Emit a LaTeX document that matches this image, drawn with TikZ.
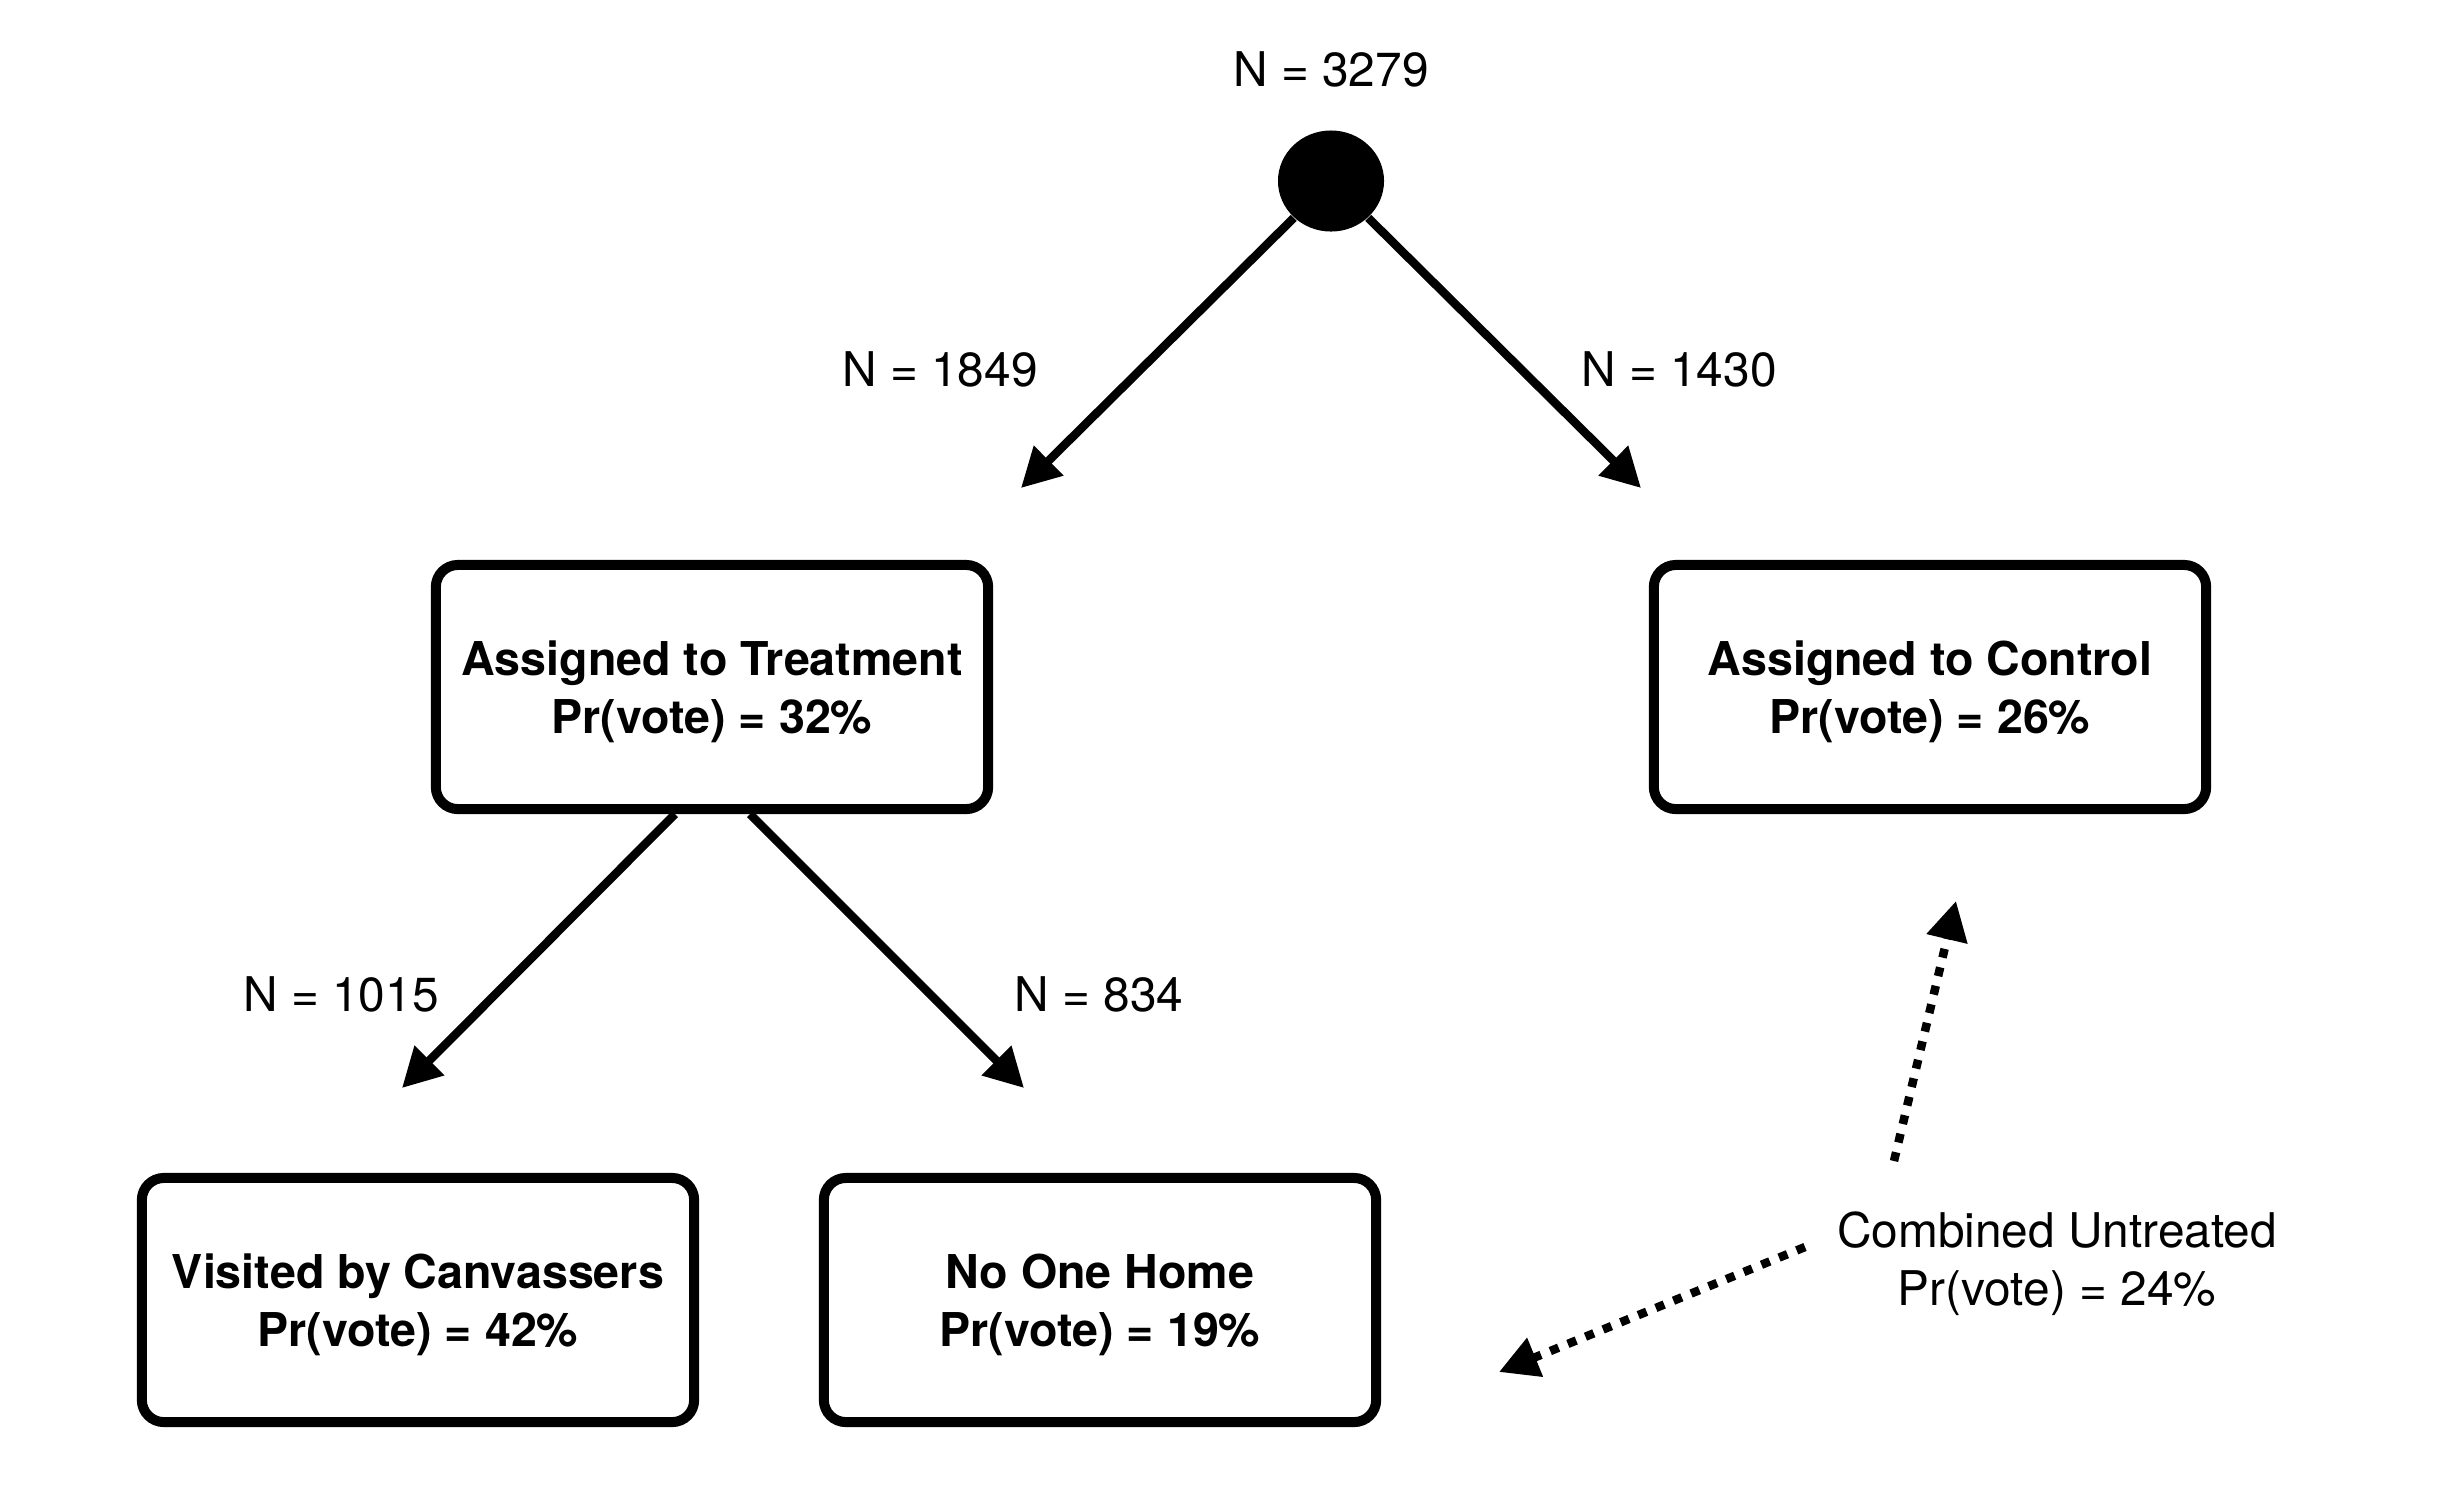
\documentclass[tikz,border=0pt]{standalone}
\usepackage{fontspec}
\setmainfont{TeX Gyre Heros}
\usepackage{tikz}
\usetikzlibrary{shapes, arrows.meta, positioning, calc}
\tikzset{
    root/.style={ellipse, fill=black, minimum width=1.06cm, minimum height=1.01cm, inner sep=0pt},
    box/.style={rectangle, rounded corners=0.22cm, draw, line width=0.1cm, minimum width=5.52cm, minimum height=2.44cm, align=center, text depth=0pt, font=\fontsize{13.25}{16.5}\selectfont\bfseries},
    count/.style={font=\fontsize{13.6}{16.5}\selectfont},
    note/.style={align=center, font=\fontsize{13.6}{16.5}\selectfont},
    arrow/.style={-{Triangle[length=0.39cm, width=0.40cm]}, line width=0.085cm},
    dotarrow/.style={arrow, dash pattern=on 0.09cm off 0.1cm}
}

\begin{document}
\begin{tikzpicture}[x=0.01cm, y=-0.01cm]
    \useasboundingbox (0,0) rectangle (2444,1496);
    % tree
    \node[root] (top) at (1331,181) {};
    \node[count] (ntop) at (1331,69) {N = 3279};
    \node[box] (treat) at (712,687) {Assigned to Treatment\\Pr(vote) = 32\%};
    \node[box] (ctrl) at (1930,687) {Assigned to Control\\Pr(vote) = 26\%};
    \node[box] (visit) at (418,1300) {Visited by Canvassers\\Pr(vote) = 42\%};
    \node[box] (home) at (1100,1300) {No One Home\\Pr(vote) = 19\%};
    \node[note] (comb) at (2057,1264) {Combined Untreated\\Pr(vote) = 24\%};
    \node[count] (ntreat) at (940,369) {N = 1849};
    \node[count] (nctrl) at (1679,369) {N = 1430};
    \node[count] (nvisit) at (341,994) {N = 1015};
    \node[count] (nhome) at (1099,994) {N = 834};
    % arrow ends
    \coordinate (tipT) at (1021,488);
    \coordinate (tipC) at (1641,488);
    \coordinate (tipV) at (402,1088);
    \coordinate (tipH) at (1024,1088);
    \coordinate (upA) at (1894,1161);
    \coordinate (upB) at (1956,901);
    \coordinate (leftA) at (1805,1247);
    \coordinate (leftB) at (1499,1372);
    \draw[arrow] (top) -- (tipT);
    \draw[arrow] (top) -- (tipC);
    \draw[arrow] ([xshift=-0.37cm]treat.south) -- (tipV);
    \draw[arrow] ([xshift=0.38cm]treat.south) -- (tipH);
    \draw[dotarrow] (upA) -- (upB);
    \draw[dotarrow] (leftA) -- (leftB);
\end{tikzpicture}
\end{document}
